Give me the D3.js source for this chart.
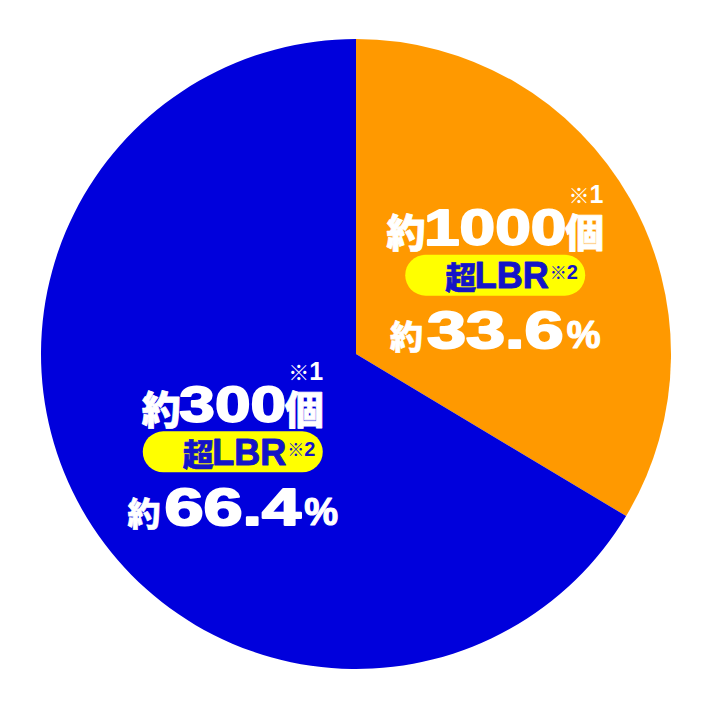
<!DOCTYPE html>
<html><head><meta charset="utf-8">
<script src="https://cdn.jsdelivr.net/npm/d3@7"></script>
<style>
html,body{margin:0;padding:0;background:#fff;}
svg{display:block;}
.lat{font-family:"Liberation Sans",Arial,sans-serif;font-weight:bold;}
.cjk{font-family:"Noto Sans CJK JP",sans-serif;font-weight:900;}
.cjkr{font-family:"Noto Sans CJK JP",sans-serif;font-weight:normal;}
</style></head>
<body>
<svg id="chart" width="712" height="710"></svg>
<script>
// ---- data ----
const categories = ["超LBR 約1000個", "超LBR 約300個"];
const counts = ["1000", "300"];
const shares = [33.6, 66.4];
const tags = ["超LBR", "超LBR"];
const colors = ["#FF9900", "#0000DC"];

// ---- layout ----
const W = 712, H = 710;
const cx = 356, cy = 354, R = 315;
const labelR = 160;
const labelNudge = [[0, 0], [16, 19]];
const white = "#FFFFFF", pillFill = "#FFFF00", pillText = "#1414C8";

const svg = d3.select("#chart");
const g = svg.append("g").attr("transform", `translate(${cx},${cy})`);

const pie = d3.pie().sort(null).value(d => d.v);
const arcs = pie(shares.map((v, i) => ({v, i})));
const arc = d3.arc().innerRadius(0).outerRadius(R);
const labelArc = d3.arc().innerRadius(labelR).outerRadius(labelR);

g.selectAll("path.slice").data(arcs).join("path")
  .attr("class", "slice")
  .attr("d", arc)
  .attr("fill", d => colors[d.data.i]);

// helper: lay out a row of segments centred at x0, baseline y
function row(parent, x0, y, segs, color, sw) {
  segs.forEach(s => {
    if (s.stretch) {
      const t = parent.append("text").attr("class", s.cls).attr("font-size", s.size).text(s.t);
      s.w = t.node().getComputedTextLength() * s.stretch;
      t.remove();
    }
  });
  const total = segs.reduce((a, s) => a + s.w + (s.gap || 0), 0);
  let x = x0 - total / 2;
  segs.forEach(s => {
    x += (s.gap || 0);
    const t = parent.append("text").attr("class", s.cls).attr("font-size", s.size)
      .attr("fill", color).attr("stroke", color).attr("stroke-width", s.sw != null ? s.sw : sw)
      .attr("stroke-linejoin", "round")
      .attr("y", y + (s.dy || 0)).text(s.t);
    if (s.stretch) {
      t.attr("x", x).attr("textLength", s.w).attr("lengthAdjust", "spacingAndGlyphs");
    } else {
      t.attr("x", x + s.w / 2).attr("text-anchor", "middle");
    }
    x += s.w;
  });
  return {left: x0 - total / 2, right: x0 + total / 2};
}

arcs.forEach(d => {
  const i = d.data.i;
  const c = labelArc.centroid(d);
  const px = cx + c[0] + labelNudge[i][0];
  const py = cy + c[1] + labelNudge[i][1];
  const lg = svg.append("g");

  // line 1: 約N個
  const r1 = row(lg, px, py - 30, [
    {t: "約", cls: "cjk", size: 39, w: 36, dy: 2, sw: 0.8},
    {t: counts[i], cls: "lat", size: 50, stretch: 1.28, gap: 0},
    {t: "個", cls: "cjk", size: 39, w: 36, dy: 2, sw: 0.8}
  ], white, 1.8);
  // ※1 superscript
  const s1 = lg.append("text").attr("y", py - 72).attr("x", r1.right + 1)
    .attr("text-anchor", "end").attr("fill", white);
  s1.append("tspan").attr("class", "cjkr").attr("font-size", 21).text("※");
  s1.append("tspan").attr("class", "lat").attr("font-size", 25).text("1");

  // pill
  lg.append("rect").attr("x", px - 90).attr("y", py - 20.5)
    .attr("width", 180).attr("height", 41).attr("rx", 20.5).attr("ry", 20.5)
    .attr("fill", pillFill);
  const tag = tags[i];
  const r2 = row(lg, px + 2, py + 13, [
    {t: tag.slice(0, 1), cls: "cjk", size: 31, w: 30, dy: 1, sw: 0.6},
    {t: tag.slice(1), cls: "lat", size: 36, stretch: 1.0, gap: -1}
  ], pillText, 1.0);
  const s2 = lg.append("text").attr("y", py + 4).attr("x", r2.right + 1).attr("fill", pillText);
  s2.append("tspan").attr("class", "cjkr").attr("font-size", 17).text("※");
  s2.append("tspan").attr("class", "lat").attr("font-size", 20).text("2");

  // line 3: 約xx.x%
  row(lg, px, py + 73, [
    {t: "約", cls: "cjk", size: 33, w: 33, dy: 1, sw: 0.6},
    {t: shares[i].toFixed(1), cls: "lat", size: 52, stretch: 1.35, gap: 4},
    {t: "%", cls: "lat", size: 38, w: 34, gap: 3, sw: 1.2}
  ], white, 2.0);
});
</script>
</body></html>
